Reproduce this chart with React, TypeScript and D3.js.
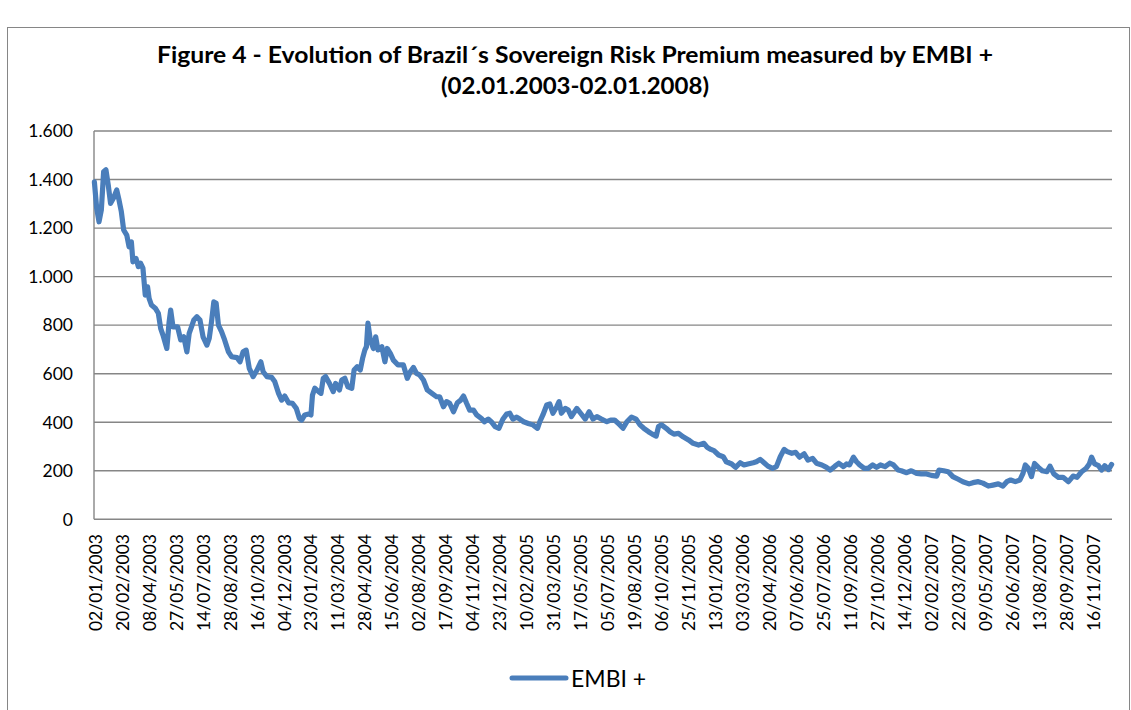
import React from "react";
import * as d3 from "d3";

// ---- Data ----
const titleLines = [
  "Figure 4 - Evolution of Brazil´s Sovereign Risk Premium measured by EMBI +",
  "(02.01.2003-02.01.2008)",
];
const seriesName = "EMBI +";

// total number of daily categories on the axis
const categoryCount = 1321;
const labelEvery = 35;
const xTickLabels = [
  "02/01/2003", "20/02/2003", "08/04/2003", "27/05/2003", "14/07/2003", "28/08/2003",
  "16/10/2003", "04/12/2003", "23/01/2004", "11/03/2004", "28/04/2004", "15/06/2004",
  "02/08/2004", "17/09/2004", "04/11/2004", "23/12/2004", "10/02/2005", "31/03/2005",
  "17/05/2005", "05/07/2005", "19/08/2005", "06/10/2005", "25/11/2005", "13/01/2006",
  "03/03/2006", "20/04/2006", "07/06/2006", "25/07/2006", "11/09/2006", "27/10/2006",
  "14/12/2006", "02/02/2007", "22/03/2007", "09/05/2007", "26/06/2007", "13/08/2007",
  "28/09/2007", "16/11/2007",
];
const yTicks = [0, 200, 400, 600, 800, 1000, 1200, 1400, 1600];

// trading-day index of each read sample, and the EMBI+ value there
const dayIndex = [
  0, 3, 6, 9, 12, 15, 18, 21, 25, 29, 32, 35, 38, 42, 45, 48, 50, 54, 57, 60,
  63, 66, 69, 71, 74, 79, 83, 86, 89, 94, 97, 99, 102, 108, 112, 116, 120, 123, 126, 129,
  133, 137, 141, 146, 149, 152, 155, 158, 161, 165, 169, 174, 178, 185, 189, 193, 197, 201, 206, 211,
  216, 219, 224, 230, 234, 239, 243, 247, 252, 257, 262, 266, 269, 273, 278, 281, 283, 286, 291, 294,
  297, 300, 305, 310, 313, 318, 321, 325, 329, 334, 337, 341, 345, 348, 351, 353, 355, 358, 362, 365,
  368, 373, 377, 380, 384, 388, 394, 401, 406, 410, 414, 418, 422, 427, 432, 438, 444, 448, 453, 457,
  461, 466, 471, 475, 479, 483, 487, 492, 496, 502, 506, 511, 515, 520, 525, 530, 535, 539, 543, 548,
  552, 557, 563, 569, 575, 578, 582, 587, 591, 595, 600, 603, 606, 611, 615, 619, 626, 631, 637, 642,
  647, 652, 658, 665, 670, 675, 680, 686, 691, 697, 703, 708, 713, 719, 724, 729, 732, 736, 742, 747,
  752, 758, 764, 771, 777, 784, 791, 795, 800, 804, 810, 816, 820, 827, 832, 838, 843, 848, 855, 859,
  864, 869, 874, 880, 885, 890, 895, 899, 905, 910, 915, 921, 926, 932, 937, 944, 950, 955, 961, 966,
  972, 976, 980, 985, 989, 993, 999, 1004, 1010, 1015, 1020, 1026, 1032, 1037, 1043, 1047, 1054, 1060, 1067, 1073,
  1080, 1086, 1093, 1096, 1102, 1108, 1114, 1121, 1127, 1135, 1140, 1147, 1153, 1160, 1166, 1173, 1179, 1184, 1189, 1195,
  1201, 1205, 1208, 1212, 1216, 1220, 1225, 1230, 1236, 1240, 1245, 1251, 1257, 1264, 1270, 1275, 1281, 1287, 1291, 1294,
  1298, 1303, 1307, 1311, 1316, 1320,
];
const embi = [
  1390, 1281, 1226, 1274, 1432, 1440, 1377, 1302, 1325, 1357, 1315, 1267, 1192, 1171, 1123, 1143, 1061, 1075, 1041, 1055,
  1035, 924, 958, 910, 883, 870, 849, 787, 759, 704, 814, 862, 793, 793, 739, 752, 690, 766, 793, 821,
  835, 821, 752, 718, 745, 814, 896, 890, 800, 773, 739, 690, 670, 666, 649, 690, 697, 622, 588, 615,
  649, 608, 588, 585, 568, 519, 491, 508, 480, 478, 457, 416, 409, 430, 434, 430, 512, 540, 526, 519,
  581, 588, 560, 526, 560, 533, 574, 581, 546, 540, 615, 629, 615, 663, 698, 711, 808, 739, 704, 752,
  698, 711, 649, 704, 684, 656, 636, 636, 581, 608, 626, 601, 595, 574, 533, 519, 505, 505, 464, 485,
  478, 443, 480, 490, 508, 478, 450, 450, 430, 416, 402, 413, 402, 382, 375, 412, 434, 437, 413, 421,
  413, 402, 395, 389, 375, 402, 430, 471, 475, 437, 464, 485, 437, 457, 450, 423, 457, 437, 413, 443,
  413, 423, 413, 402, 409, 409, 395, 375, 402, 421, 413, 389, 375, 361, 351, 343, 382, 389, 375, 361,
  351, 354, 340, 327, 313, 306, 313, 297, 288, 283, 265, 258, 237, 228, 214, 233, 224, 228, 233, 237,
  247, 233, 219, 210, 217, 258, 288, 279, 272, 276, 256, 270, 244, 251, 231, 224, 214, 203, 219, 231,
  217, 228, 224, 256, 237, 224, 210, 210, 224, 214, 224, 217, 231, 224, 203, 200, 192, 200, 189, 187,
  187, 181, 178, 203, 200, 196, 176, 165, 155, 146, 151, 155, 149, 137, 141, 146, 137, 155, 162, 155,
  162, 189, 224, 210, 176, 230, 214, 200, 196, 219, 187, 173, 173, 155, 178, 173, 196, 210, 228, 256,
  228, 221, 203, 221, 205, 226,
];

// ---- Layout ----
const W = 1131;
const H = 710;
const plot = { left: 94, right: 1112, top: 131, bottom: 519.3 };
const FONT = "Lato, 'Open Sans', 'DejaVu Sans', sans-serif";
const LINE_COLOR = "#4a7ebb";
const GRID_COLOR = "#868686";

const fmt = d3
  .formatLocale({ decimal: ",", thousands: ".", grouping: [3], currency: ["", ""] })
  .format(",d");

export default function App() {
  const x = d3.scaleLinear().domain([0, categoryCount]).range([plot.left, plot.right]);
  const y = d3.scaleLinear().domain([0, 1600]).range([plot.bottom, plot.top]);
  const pts = dayIndex.map((d, i) => [d, embi[i]] as [number, number]);
  const line = d3
    .line<[number, number]>()
    .x((d) => x(d[0] + 0.5))
    .y((d) => y(d[1]));

  return (
    <svg
      width={W}
      height={H}
      style={{ position: "absolute", left: 0, top: 0, background: "#fff" }}
      fontFamily={FONT}
    >
      <rect x={0} y={0} width={W} height={H} fill="#fff" />
      {/* chart border */}
      <rect x={7.5} y={27.5} width={1122} height={720} fill="none" stroke={GRID_COLOR} strokeWidth={1} />

      {/* title */}
      <text x={575} y={63} textAnchor="middle" fontSize={23.5} fontWeight="bold" fill="#000"
        textLength={836} lengthAdjust="spacingAndGlyphs">
        {titleLines[0]}
      </text>
      <text x={575} y={94} textAnchor="middle" fontSize={23.5} fontWeight="bold" fill="#000"
        textLength={268} lengthAdjust="spacingAndGlyphs">
        {titleLines[1]}
      </text>

      {/* grid lines */}
      {yTicks.map((t) => (
        <line key={t} x1={plot.left} x2={plot.right} y1={y(t)} y2={y(t)}
          stroke={GRID_COLOR} strokeWidth={1.4} />
      ))}
      {/* left axis */}
      <line x1={plot.left} x2={plot.left} y1={plot.top} y2={plot.bottom} stroke={GRID_COLOR} strokeWidth={1.4} />

      {/* y tick labels */}
      {yTicks.map((t) => (
        <text key={"yl" + t} x={73} y={y(t)} dy="0.36em" textAnchor="end" fontSize={17.5} fill="#000">
          {fmt(t)}
        </text>
      ))}

      {/* x tick labels */}
      {xTickLabels.map((lab, k) => {
        const xx = x(k * labelEvery + 0.5) + 1;
        return (
          <text key={lab} transform={`translate(${xx},534) rotate(-90)`} textAnchor="end"
            dy="0.36em" fontSize={17.5} fill="#000">
            {lab}
          </text>
        );
      })}

      {/* series */}
      <path d={line(pts) || ""} fill="none" stroke={LINE_COLOR} strokeWidth={5.2}
        strokeLinejoin="round" strokeLinecap="round" />

      {/* legend */}
      <line x1={512} x2={566} y1={678} y2={678} stroke={LINE_COLOR} strokeWidth={5} strokeLinecap="round" />
      <text x={571} y={686.5} fontSize={23} fill="#000">{seriesName}</text>
    </svg>
  );
}
